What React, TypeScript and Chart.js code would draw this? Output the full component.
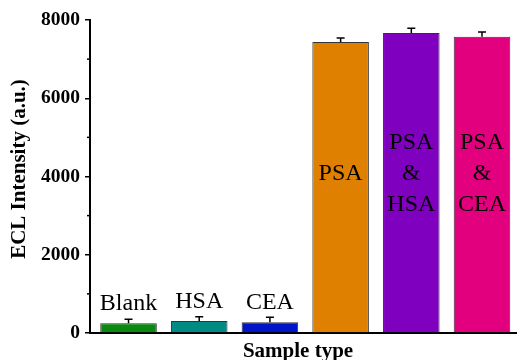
import React, { useEffect, useRef } from "react";
import { Chart, registerables } from "chart.js";

Chart.register(...registerables);

const categories = ["Blank", "HSA", "CEA", "PSA", "PSA & HSA", "PSA & CEA"];
const barLabelLines = [["Blank"], ["HSA"], ["CEA"], ["PSA"], ["PSA", "&", "HSA"], ["PSA", "&", "CEA"]];
const values = [250, 305, 275, 7440, 7670, 7570];
const errors = [100, 110, 125, 100, 120, 125];
const barColors = ["#0b8a12", "#008a84", "#0014c8", "#e08000", "#8000c0", "#e2007f"];
const yTicks = [0, 2000, 4000, 6000, 8000];
const yMinorTicks = [1000, 3000, 5000, 7000];
const yTitle = "ECL Intensity (a.u.)";
const xTitle = "Sample type";

const SERIF = "'Liberation Serif', 'Times New Roman', serif";

const overlayPlugin = {
  id: "overlay",
  afterDatasetsDraw(chart: any) {
    const ctx = chart.ctx;
    const ys = chart.scales.y;
    const meta = chart.getDatasetMeta(0);
    ctx.save();
    // error bars
    ctx.strokeStyle = "#000";
    ctx.lineWidth = 1.5;
    meta.data.forEach((bar: any, i: number) => {
      const x = bar.x;
      const top = ys.getPixelForValue(values[i]);
      const et = ys.getPixelForValue(values[i] + errors[i]);
      ctx.beginPath();
      ctx.moveTo(x, top);
      ctx.lineTo(x, et);
      ctx.moveTo(x - 4, et);
      ctx.lineTo(x + 4, et);
      ctx.stroke();
    });
    // bar labels
    ctx.fillStyle = "#000";
    ctx.font = `24px ${SERIF}`;
    ctx.textAlign = "center";
    ctx.textBaseline = "alphabetic";
    meta.data.forEach((bar: any, i: number) => {
      const lines = barLabelLines[i];
      if (values[i] < 2000) {
        const base = ys.getPixelForValue(values[i]) - 13;
        ctx.fillText(lines[0], bar.x, base);
      } else {
        const mid = ys.getPixelForValue(3900);
        const n = lines.length;
        lines.forEach((ln: string, k: number) => {
          ctx.fillText(ln, bar.x, mid + (k - (n - 1) / 2) * 31);
        });
      }
    });
    ctx.restore();
  },
  afterDraw(chart: any) {
    const ctx = chart.ctx;
    const ys = chart.scales.y;
    const left = chart.chartArea.left;
    ctx.save();
    // minor ticks
    ctx.strokeStyle = "#000";
    ctx.lineWidth = 1.5;
    yMinorTicks.forEach((v) => {
      const y = ys.getPixelForValue(v);
      ctx.beginPath();
      ctx.moveTo(left - 3, y);
      ctx.lineTo(left, y);
      ctx.stroke();
    });
    // titles
    ctx.fillStyle = "#000";
    ctx.font = `bold 21px ${SERIF}`;
    ctx.textAlign = "center";
    ctx.textBaseline = "alphabetic";
    ctx.fillText(xTitle, 298, 357);
    ctx.translate(25, 169);
    ctx.rotate(-Math.PI / 2);
    ctx.fillText(yTitle, 0, 0);
    ctx.restore();
  },
};

export default function App() {
  const ref = useRef<HTMLCanvasElement | null>(null);
  useEffect(() => {
    if (!ref.current) return;
    const chart = new Chart(ref.current, {
      type: "bar",
      data: {
        labels: categories,
        datasets: [
          {
            data: values.map((v, i) => ({ x: i, y: v })),
            backgroundColor: barColors,
            borderColor: "#333",
            borderWidth: 1,
            barPercentage: 0.8,
            categoryPercentage: 1,
          },
        ],
      },
      options: {
        animation: false,
        responsive: false,
        layout: { padding: { top: 20, right: 0, left: 0, bottom: 0 } },
        plugins: { legend: { display: false }, tooltip: { enabled: false } },
        scales: {
          x: {
            type: "linear",
            offset: false,
            min: -0.545,
            max: 5.495,
            ticks: { display: false },
            grid: { display: false, offset: false },
            border: { display: true, color: "#000", width: 2 },
            afterFit: (s: any) => {
              s.height = 27;
            },
          },
          y: {
            min: 0,
            max: 8000,
            afterBuildTicks: (s: any) => {
              s.ticks = yTicks.map((v) => ({ value: v }));
            },
            ticks: {
              color: "#000",
              padding: 5,
              font: { family: SERIF, size: 19.5, weight: "bold" },
              callback: (v: any) => String(v),
            },
            grid: { drawOnChartArea: false, drawTicks: true, tickLength: 5, color: "#000", lineWidth: 1.5 },
            border: { display: true, color: "#000", width: 2 },
            afterFit: (s: any) => {
              s.width = 90;
            },
          },
        },
      },
      plugins: [overlayPlugin],
    } as any);
    return () => chart.destroy();
  }, []);
  return (
    <div style={{ position: "fixed", left: 0, top: 0, width: 517, height: 360, background: "#fff" }}>
      <canvas ref={ref} width={517} height={360} />
    </div>
  );
}
